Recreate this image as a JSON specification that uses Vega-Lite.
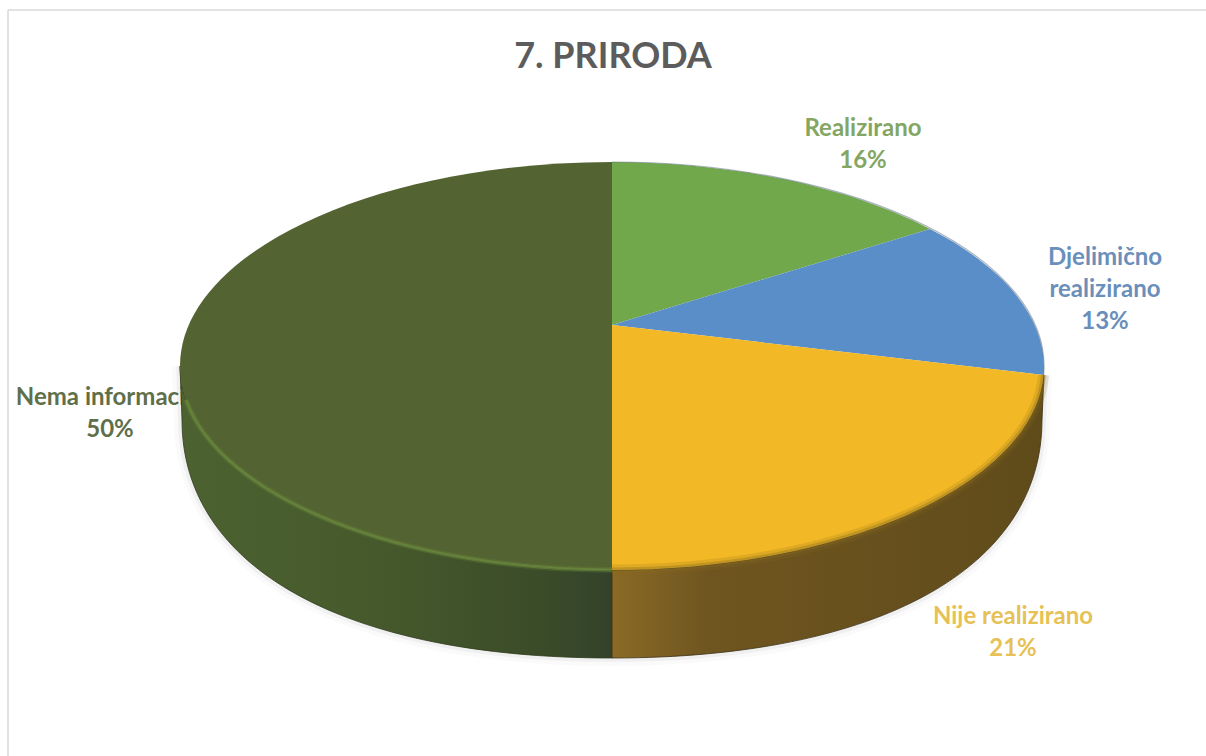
{
"$schema":"https://vega.github.io/schema/vega-lite/v6.json",
"width":1206,"height":756,"padding":0,"autosize":{"type":"none"},
"background":"#ffffff",
"config":{"view":{"stroke":null}},
"resolve":{"scale":{"shape":"independent","color":"independent","size":"independent"}},
"datasets":{
 "frame":[{"x":8,"y":10,"x2":1206,"y2":10},{"x":8,"y":10,"x2":8,"y2":756}],
 "labels":[
  {"x":613,"y":57,"text":"7. PRIRODA","kind":"title"},
  {"x":863,"y":129,"text":"Realizirano\n16%","kind":"Realizirano"},
  {"x":1105,"y":258,"text":"Djelimično\nrealizirano\n13%","kind":"Djelimično realizirano"},
  {"x":1013,"y":617,"text":"Nije realizirano\n21%","kind":"Nije realizirano"},
  {"x":110,"y":398,"text":"Nema informacije\n50%","kind":"Nema informacije"}],
 "parts":[
  {"x":612,"y":325,"part":"silhouette"},
  {"x":612,"y":325,"part":"wallLeft"},
  {"x":612,"y":325,"part":"wallRight"},
  {"x":612,"y":325,"part":"Realizirano","pct":16},
  {"x":612,"y":325,"part":"Djelimično realizirano","pct":13},
  {"x":612,"y":325,"part":"Nije realizirano","pct":21},
  {"x":612,"y":325,"part":"Nema informacije","pct":50},
  {"x":612,"y":325,"part":"rimLeft"},
  {"x":612,"y":325,"part":"rimRight"},
  {"x":612,"y":325,"part":"rimTop"}]
},
"encoding":{
 "x":{"field":"x","type":"quantitative","scale":{"domain":[0,1206],"nice":false,"zero":false},"axis":null},
 "y":{"field":"y","type":"quantitative","scale":{"domain":[756,0],"nice":false,"zero":false},"axis":null}
},
"layer":[
 {"data":{"name":"frame"},"mark":{"type":"rule","color":"#d9d9d9","strokeWidth":1.5},
  "encoding":{"x2":{"field":"x2"},"y2":{"field":"y2"}}},
 {"data":{"name":"labels"},"mark":{"type":"text","align":"center","baseline":"middle","font":"Lato","fontWeight":"bold","lineBreak":"\n","lineHeight":32},
  "encoding":{"text":{"field":"text"},
   "size":{"field":"kind","type":"nominal","legend":null,"scale":{"domain":["title","Realizirano","Djelimično realizirano","Nije realizirano","Nema informacije"],"range":[36,24,24,24,24],"type":"ordinal"}},
   "color":{"field":"kind","type":"nominal","legend":null,"scale":{"domain":["title","Realizirano","Djelimično realizirano","Nije realizirano","Nema informacije"],"range":["#5c5c5c","#84a663","#6a8fbb","#e6c155","#5f6f4a"]}}}},
 {"data":{"name":"parts"},"transform":[{"filter":"datum.part==='silhouette'"}],
  "mark":{"type":"point","filled":false,"size":4,"stroke":"#000000","strokeWidth":16,"strokeOpacity":0.025},
  "encoding":{"shape":{"field":"part","type":"nominal","legend":null,"scale":{"domain":["silhouette"],"range":["M-432,41L-430,95C-430,243,-267,333,0,333C267,333,430,243,430,95L432,50"]}}}},
 {"data":{"name":"parts"},"transform":[{"filter":"datum.part==='silhouette'"}],
  "mark":{"type":"point","filled":false,"size":4,"stroke":"#000000","strokeWidth":8,"strokeOpacity":0.05},
  "encoding":{"shape":{"field":"part","type":"nominal","legend":null,"scale":{"domain":["silhouette"],"range":["M-432,41L-430,95C-430,243,-267,333,0,333C267,333,430,243,430,95L432,50"]}}}},
 {"data":{"name":"parts"},"transform":[{"filter":"datum.part==='wallLeft'"}],
  "mark":{"type":"point","filled":true,"opacity":1,"size":4,"stroke":"#2e3a1c","strokeWidth":0.8,
   "fill":{"gradient":"linear","x1":0,"y1":0,"x2":1,"y2":0,"stops":[{"offset":0,"color":"#4c6230"},{"offset":0.5,"color":"#45582b"},{"offset":0.85,"color":"#3a4b29"},{"offset":1,"color":"#33422a"}]}},
  "encoding":{"shape":{"field":"part","type":"nominal","legend":null,"scale":{"domain":["wallLeft"],"range":["M-432,41L-430,95C-430,243,-267,333,0,333L0,245A432,204,0,0,1,-432,41Z"]}}}},
 {"data":{"name":"parts"},"transform":[{"filter":"datum.part==='wallRight'"}],
  "mark":{"type":"point","filled":true,"opacity":1,"size":4,"stroke":"#3a3014","strokeWidth":0.8,
   "fill":{"gradient":"linear","x1":0,"y1":0,"x2":1,"y2":0,"stops":[{"offset":0,"color":"#8a6a26"},{"offset":0.22,"color":"#6f5520"},{"offset":1,"color":"#5f4b1a"}]}},
  "encoding":{"shape":{"field":"part","type":"nominal","legend":null,"scale":{"domain":["wallRight"],"range":["M432,50L430,95C430,243,267,333,0,333L0,245A432,204,0,0,0,431.6,50Z"]}}}},
 {"data":{"name":"parts"},"transform":[{"filter":"isValid(datum.pct)"}],
  "mark":{"type":"point","filled":true,"opacity":1,"size":4},
  "encoding":{
   "shape":{"field":"part","type":"nominal","legend":null,"scale":{"domain":["Realizirano","Djelimično realizirano","Nije realizirano","Nema informacije"],"range":["M0,0L0,-163A432,204,0,0,1,318,-96Z","M0,0L318,-96A432,204,0,0,1,431.6,50Z","M0,0L431.6,50A432,204,0,0,1,0,245Z","M0,-163L0,245A432,204,0,0,1,-432,41A432,204,0,0,1,0,-163Z"]}},
   "color":{"field":"part","type":"nominal","legend":null,"scale":{"domain":["Realizirano","Djelimično realizirano","Nije realizirano","Nema informacije"],"range":["#72a84c","#5a8ec8","#f2b825","#546332"]}}}},
 {"data":{"name":"parts"},"transform":[{"filter":"datum.part==='rimLeft'"}],
  "mark":{"type":"point","filled":false,"size":4,"stroke":"#6f9040","strokeWidth":6,"strokeOpacity":0.3},
  "encoding":{"shape":{"field":"part","type":"nominal","legend":null,"scale":{"domain":["rimLeft"],"range":["M-426,75A432,204,0,0,0,0,245"]}}}},
 {"data":{"name":"parts"},"transform":[{"filter":"datum.part==='rimLeft'"}],
  "mark":{"type":"point","filled":false,"size":4,"stroke":"#6f9040","strokeWidth":3,"strokeOpacity":0.85},
  "encoding":{"shape":{"field":"part","type":"nominal","legend":null,"scale":{"domain":["rimLeft"],"range":["M-426,75A432,204,0,0,0,0,245"]}}}},
 {"data":{"name":"parts"},"transform":[{"filter":"datum.part==='rimRight'"}],
  "mark":{"type":"point","filled":false,"size":4,"stroke":"#8a6c1e","strokeWidth":11,"strokeOpacity":0.25},
  "encoding":{"shape":{"field":"part","type":"nominal","legend":null,"scale":{"domain":["rimRight"],"range":["M0,245A432,204,0,0,0,431.6,50"]}}}},
 {"data":{"name":"parts"},"transform":[{"filter":"datum.part==='rimRight'"}],
  "mark":{"type":"point","filled":false,"size":4,"stroke":"#8a6c1e","strokeWidth":5,"strokeOpacity":0.5},
  "encoding":{"shape":{"field":"part","type":"nominal","legend":null,"scale":{"domain":["rimRight"],"range":["M0,245A432,204,0,0,0,431.6,50"]}}}},
 {"data":{"name":"parts"},"transform":[{"filter":"datum.part==='rimTop'"}],
  "mark":{"type":"point","filled":false,"size":4,"stroke":"#4f6478","strokeWidth":1.2,"strokeOpacity":0.7},
  "encoding":{"shape":{"field":"part","type":"nominal","legend":null,"scale":{"domain":["rimTop"],"range":["M0,-163A432,204,0,0,1,431.6,50"]}}}}
]
}
